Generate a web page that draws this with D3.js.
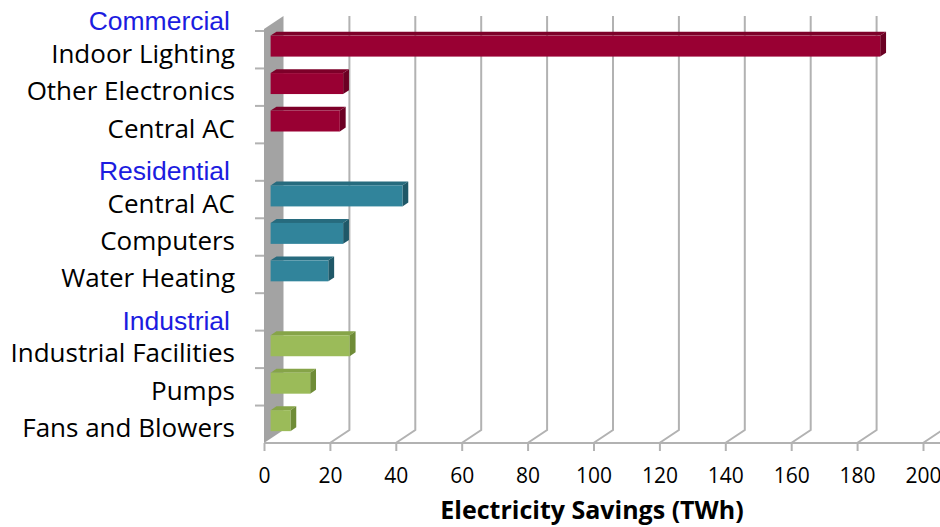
<!DOCTYPE html>
<html>
<head>
<meta charset="utf-8">
<script src="https://cdn.jsdelivr.net/npm/d3@7"></script>
<style>
  html, body { margin: 0; padding: 0; background: #fff; }
  svg { display: block; }
</style>
</head>
<body>
<svg id="chart" width="940" height="527"></svg>
<script>
// Sector headings and the end uses listed under each one
const sectors = ["Commercial", "Residential", "Industrial"];
const categories = [
  "Indoor Lighting", "Other Electronics", "Central AC",
  "Central AC", "Computers", "Water Heating",
  "Industrial Facilities", "Pumps", "Fans and Blowers"
];
const sectorOf = [0, 0, 0, 1, 1, 1, 2, 2, 2];
// Electricity savings, TWh
const savings = [185, 22, 21, 40, 22, 17.5, 24, 12, 6];
const xTicks = [0, 20, 40, 60, 80, 100, 120, 140, 160, 180, 200];
const axisTitle = "Electricity Savings (TWh)";

// Face colours per sector: front, top, side
const sectorColors = [
  { front: "#990033", top: "#7d0029", side: "#6b0023" },
  { front: "#31849B", top: "#276b7e", side: "#1f5868" },
  { front: "#9BBB59", top: "#86a448", side: "#6f8c37" }
];

const labelFont = "'Open Sans', Lato, sans-serif";
const svg = d3.select("#chart");

// Row layout: a heading row for each sector followed by its end uses
const rows = [];
sectors.forEach((s, si) => {
  rows.push({ type: "head", label: s, sector: si });
  categories.forEach((c, i) => {
    if (sectorOf[i] === si) rows.push({ type: "item", label: c, sector: si, value: savings[i] });
  });
});
rows.forEach((r, i) => r.key = i);

// Front plane of the 3-D plot box
const frontLeft = 264, frontRight = 923, floorY = 443, rowTop = 31;
const depthX = 19.5, depthY = -13;          // offset from front plane to back wall
const barDepthFront = 0.34, barDepthBack = 0.64;

const x = d3.scaleLinear().domain([0, 200]).range([frontLeft, frontRight]);
const rowStep = (floorY - rowTop) / 11;
const y = d3.scaleBand()
  .domain(rows.map(r => r.key))
  .range([rowTop - rowStep, floorY])
  .paddingInner(0).paddingOuter(0);

const gridColor = "#b2b2b2";

// Side wall
const wallTop = rowTop - 2;
svg.append("path")
  .attr("d", `M${frontLeft},${floorY} L${frontLeft},${wallTop} L${frontLeft + depthX},${wallTop + depthY} L${frontLeft + depthX},${floorY + depthY} Z`)
  .attr("fill", "#a3a3a3");

// Back-wall gridlines with their floor segments
const grid = svg.append("g");
xTicks.forEach(t => {
  const fx = x(t), bx = fx + depthX;
  if (t > 0) {
    grid.append("path")
      .attr("d", `M${bx},${wallTop + depthY} L${bx},${floorY + depthY} L${fx},${floorY}`)
      .attr("fill", "none").attr("stroke", gridColor).attr("stroke-width", 2);
  }
});

// Value axis (front edge of the floor) drawn with d3.axisBottom
const xAxis = svg.append("g")
  .attr("transform", `translate(0,${floorY})`)
  .call(d3.axisBottom(x).tickValues(xTicks).tickSize(8).tickSizeOuter(0).tickPadding(17));
xAxis.select(".domain").attr("stroke", gridColor).attr("stroke-width", 2)
  .attr("d", `M${frontLeft},0H940`);
xAxis.selectAll(".tick line").attr("stroke", gridColor).attr("stroke-width", 2);
xAxis.selectAll(".tick text")
  .attr("fill", "#000")
  .style("font-family", labelFont)
  .style("font-size", "21px");

// Category axis ticks at row boundaries
const boundaries = d3.range(1, rows.length).map(i => y(i));
svg.append("g").selectAll("line").data(boundaries).join("line")
  .attr("x1", frontLeft - 9).attr("x2", frontLeft)
  .attr("y1", d => d).attr("y2", d => d)
  .attr("stroke", gridColor).attr("stroke-width", 2);

// 3-D bars
const bars = svg.append("g");
const dfx = barDepthFront * depthX;
const dbx = (barDepthBack - barDepthFront) * depthX, dby = (barDepthBack - barDepthFront) * depthY;
rows.filter(r => r.type === "item").forEach(r => {
  const c = sectorColors[r.sector];
  const bw = y.bandwidth();
  const ty = y(r.key) + bw * 0.11 + 0.5;
  const h = bw * 0.56;
  const x0 = x(0) + dfx, x1 = x(r.value) + dfx;
  // top face
  bars.append("path")
    .attr("d", `M${x0},${ty} L${x0 + dbx},${ty + dby} L${x1 + dbx},${ty + dby} L${x1},${ty} Z`)
    .attr("fill", c.top);
  // side face
  bars.append("path")
    .attr("d", `M${x1},${ty} L${x1 + dbx},${ty + dby} L${x1 + dbx},${ty + h + dby} L${x1},${ty + h} Z`)
    .attr("fill", c.side);
  // front face
  bars.append("rect")
    .attr("x", x0).attr("y", ty).attr("width", x1 - x0).attr("height", h)
    .attr("fill", c.front);
});

// Category labels and sector headings
const labels = svg.append("g");
rows.forEach(r => {
  const cy = y(r.key) + y.bandwidth() / 2;
  if (r.type === "head") {
    labels.append("text")
      .attr("x", 230).attr("y", cy + 9)
      .attr("text-anchor", "end").attr("dominant-baseline", "central")
      .attr("fill", "#1c1ce0")
      .style("font-family", "'Liberation Sans', Arial, sans-serif")
      .style("font-size", "26.5px")
      .text(r.label);
  } else {
    labels.append("text")
      .attr("x", 235).attr("y", cy + 3)
      .attr("text-anchor", "end").attr("dominant-baseline", "central")
      .attr("fill", "#000")
      .style("font-family", labelFont)
      .style("font-size", "26px")
      .text(r.label);
  }
});

// Axis title
svg.append("text")
  .attr("x", 592).attr("y", 519)
  .attr("text-anchor", "middle")
  .attr("fill", "#000")
  .style("font-family", labelFont)
  .style("font-weight", "bold")
  .style("font-size", "25px")
  .text(axisTitle);
</script>
</body>
</html>
